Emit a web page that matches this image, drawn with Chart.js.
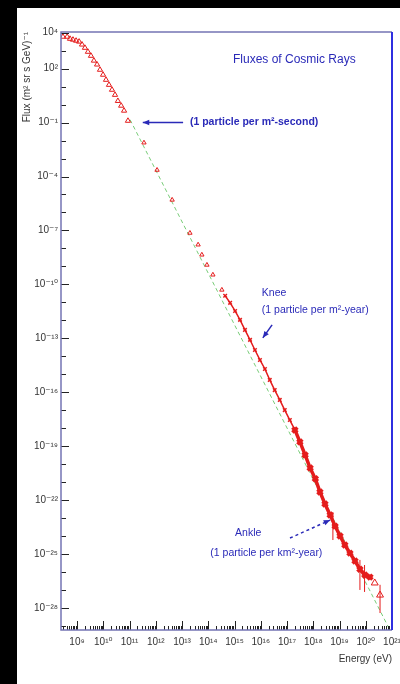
<!DOCTYPE html>
<html>
<head>
<meta charset="utf-8">
<script src="https://cdn.jsdelivr.net/npm/chart.js@4.4.1/dist/chart.umd.min.js"></script>
<style>
html,body{margin:0;padding:0;background:#000;width:400px;height:684px;overflow:hidden;}
#box{position:absolute;left:17px;top:8px;width:383px;height:676px;background:#fff;}
</style>
</head>
<body>
<div id="box"><canvas id="myChart" width="383" height="676"></canvas></div>
<script>
// low energy points (triangles), E in eV, flux in (m2 sr s GeV)^-1
var lowE = [2.9e8, 4.2e8, 5.4e8, 7.0e8, 9.2e8, 1.2e9, 1.55e9, 2.0e9, 2.6e9, 3.4e9, 4.4e9, 5.8e9, 7.5e9, 9.8e9, 1.27e10, 1.65e10, 2.15e10, 2.8e10, 3.6e10, 4.8e10, 6.2e10, 8.7e10];
var lowF = [6.0e3, 6.0e3, 4.6e3, 4.1e3, 3.6e3, 3.2e3, 2.2e3, 1.45e3, 870, 520, 280, 170, 87, 46, 24, 12.6, 6.7, 3.5, 1.6, 0.87, 0.46, 0.126];
// direct measurements, sparse
var midE = [3.55e11, 1.12e12, 4.2e12, 2.0e13, 4.1e13, 5.7e13, 8.9e13, 1.5e14, 3.3e14];
var midF = [7.6e-3, 2.3e-4, 5.0e-6, 7.2e-8, 1.6e-8, 4.4e-9, 1.2e-9, 3.4e-10, 4.9e-11];
// air shower data around the knee
var kneeE = [4.4e14, 6.8e14, 1.05e15, 1.62e15, 2.5e15, 3.9e15, 6.0e15, 9.3e15, 1.44e16, 2.2e16, 3.4e16, 5.3e16, 8.2e16, 1.28e17, 2.0e17];
var kneeF = [2.3e-11, 9.3e-12, 3.3e-12, 1.05e-12, 2.9e-13, 8.1e-14, 2.2e-14, 6.2e-15, 1.95e-15, 4.8e-16, 1.3e-16, 3.7e-17, 1.0e-17, 2.8e-18, 7.9e-19];
// data around the ankle
var ankleE = [2.0e17, 3.1e17, 4.9e17, 7.6e17, 1.2e18, 1.8e18, 2.8e18, 4.4e18, 6.8e18, 1.05e19, 1.6e19, 2.5e19, 3.9e19, 6.0e19, 9.3e19, 1.45e20];
var ankleF = [7.9e-19, 1.7e-19, 3.2e-20, 6.0e-21, 1.5e-21, 2.8e-22, 6.0e-23, 1.45e-23, 3.5e-24, 9.8e-25, 3.1e-25, 1.1e-25, 4.0e-26, 1.4e-26, 6.6e-27, 5.1e-27];
// highest energy points
var topE = [2.2e20, 3.5e20];
var topF = [2.4e-27, 5.1e-28];
// vertical error bars
var errE = [5.6e18, 6.0e19, 9.0e19, 3.5e20];
var errLo = [5.9e-25, 9.8e-28, 7.6e-28, 5.1e-29];
var errHi = [2.1e-23, 4.6e-26, 2.4e-26, 1.9e-27];
// power law guide line
var fitE = [1.05e11, 8.3e20];
var fitF = [0.145, 5.8e-30];

var xTickExp = [9,10,11,12,13,14,15,16,17,18,19,20,21];
var yTickExp = [4,2,-1,-4,-7,-10,-13,-16,-19,-22,-25,-28];

var sup = {'-':'\u207B','0':'\u2070','1':'\u00B9','2':'\u00B2','3':'\u00B3','4':'\u2074','5':'\u2075','6':'\u2076','7':'\u2077','8':'\u2078','9':'\u2079'};
function toSup(n){
  return String(n).split('').map(function(c){ return sup[c]; }).join('');
}
function pts(xs, ys){
  return xs.map(function(v, i){ return {x: v, y: ys[i]}; });
}
function errPts(){
  var out = [];
  for(var i = 0; i < errE.length; i++){
    out.push({x: errE[i], y: errLo[i]});
    out.push({x: errE[i], y: errHi[i]});
    out.push({x: errE[i], y: null});
  }
  return out;
}
function decadeLabel(list){
  return function(value){
    var e = Math.round(Math.log10(value));
    if(Math.abs(value / Math.pow(10, e) - 1) < 1e-6 && list.indexOf(e) >= 0)
      return '10' + toSup(e);
    return '';
  };
}

// annotation texts anchored in data coordinates
var notes = [
  {text: 'Fluxes of Cosmic Rays', x: 1.9e17, y: 320, font: '12px "Liberation Sans"', align: 'center'},
  {text: '(1 particle per m\u00B2-second)', x: 2.0e13, y: 0.1, font: 'bold 10.5px "Liberation Sans"', align: 'left'},
  {text: 'Knee', x: 1.1e16, y: 3.3e-11, font: '10.5px "Liberation Sans"', align: 'left'},
  {text: '(1 particle per m\u00B2-year)', x: 1.1e16, y: 3.8e-12, font: '10.5px "Liberation Sans"', align: 'left'},
  {text: 'Ankle', x: 1.05e15, y: 1.45e-24, font: '10.5px "Liberation Sans"', align: 'left'},
  {text: '(1 particle per km\u00B2-year)', x: 1.2e14, y: 1.1e-25, font: '10.5px "Liberation Sans"', align: 'left'}
];
var arrows = [
  {from: [1.1e13, 0.1], to: [3.2e11, 0.1], dash: []},
  {from: [2.7e16, 5.5e-13], to: [1.2e16, 1.05e-13], dash: []},
  {from: [1.3e17, 7.6e-25], to: [4.4e18, 7.6e-24], dash: [3, 3]}
];

var decor = {
  id: 'decor',
  afterDraw: function(chart){
    var ctx = chart.ctx, a = chart.chartArea;
    var xs = chart.scales.x, ys = chart.scales.y;
    ctx.save();
    // inward ticks
    ctx.strokeStyle = '#222';
    ctx.lineWidth = 1;
    xs.ticks.forEach(function(t){
      var px = Math.round(xs.getPixelForValue(t.value)) + 0.5;
      var len = t.big ? 9 : 4;
      ctx.beginPath(); ctx.moveTo(px, a.bottom); ctx.lineTo(px, a.bottom - len); ctx.stroke();
    });
    ys.ticks.forEach(function(t){
      var py = Math.round(ys.getPixelForValue(t.value)) + 0.5;
      var e = Math.round(Math.log10(t.value));
      var len = yTickExp.indexOf(e) >= 0 ? 8 : 5;
      ctx.beginPath(); ctx.moveTo(a.left, py); ctx.lineTo(a.left + len, py); ctx.stroke();
    });
    // frame
    ctx.lineWidth = 1.5;
    ctx.strokeStyle = '#7474b4';
    ctx.beginPath();
    ctx.moveTo(a.right, a.top); ctx.lineTo(a.left, a.top); ctx.lineTo(a.left, a.bottom); ctx.lineTo(a.right, a.bottom);
    ctx.stroke();
    ctx.lineWidth = 2;
    ctx.strokeStyle = '#2f2fe0';
    ctx.beginPath(); ctx.moveTo(a.right, a.top); ctx.lineTo(a.right, a.bottom); ctx.stroke();
    // notes
    ctx.fillStyle = '#2a2ab8';
    ctx.textBaseline = 'middle';
    notes.forEach(function(n){
      ctx.font = n.font;
      ctx.textAlign = n.align;
      ctx.fillText(n.text, xs.getPixelForValue(n.x), ys.getPixelForValue(n.y));
    });
    // arrows
    ctx.strokeStyle = '#2a2ab8';
    arrows.forEach(function(ar){
      var x0 = xs.getPixelForValue(ar.from[0]), y0 = ys.getPixelForValue(ar.from[1]);
      var x1 = xs.getPixelForValue(ar.to[0]), y1 = ys.getPixelForValue(ar.to[1]);
      var ang = Math.atan2(y1 - y0, x1 - x0);
      ctx.lineWidth = 1.5;
      ctx.setLineDash(ar.dash);
      ctx.beginPath(); ctx.moveTo(x0, y0); ctx.lineTo(x1, y1); ctx.stroke();
      ctx.setLineDash([]);
      ctx.beginPath();
      ctx.moveTo(x1, y1);
      ctx.lineTo(x1 - 7 * Math.cos(ang - 0.4), y1 - 7 * Math.sin(ang - 0.4));
      ctx.lineTo(x1 - 7 * Math.cos(ang + 0.4), y1 - 7 * Math.sin(ang + 0.4));
      ctx.closePath();
      ctx.fillStyle = '#2a2ab8';
      ctx.fill();
    });
    ctx.restore();
  }
};

var red = '#e41c1c';
var labelFont = {family: '"Liberation Sans", "DejaVu Sans", sans-serif', size: 10};

var ctx = document.getElementById('myChart').getContext('2d');
var chart = new Chart(ctx, {
  type: 'scatter',
  data: {
    datasets: [{
      label: 'fit',
      data: pts(fitE, fitF),
      showLine: true,
      borderColor: '#78cc78',
      borderWidth: 1,
      borderDash: [4, 3],
      pointRadius: 0,
      order: 10
    }, {
      label: 'low',
      data: pts(lowE, lowF),
      pointStyle: 'triangle',
      pointRadius: 3,
      borderColor: red,
      backgroundColor: 'rgba(0,0,0,0)',
      borderWidth: 1
    }, {
      label: 'mid',
      data: pts(midE, midF),
      pointStyle: 'triangle',
      pointRadius: 2.5,
      borderColor: red,
      backgroundColor: 'rgba(0,0,0,0)',
      borderWidth: 1
    }, {
      label: 'knee',
      data: pts(kneeE, kneeF),
      showLine: true,
      pointStyle: 'crossRot',
      pointRadius: 2.5,
      borderColor: red,
      borderWidth: 1.5
    }, {
      label: 'ankle',
      data: pts(ankleE, ankleF),
      showLine: true,
      pointStyle: 'crossRot',
      pointRadius: 3.5,
      borderColor: red,
      borderWidth: 3.5
    }, {
      label: 'top',
      data: pts(topE, topF),
      pointStyle: 'triangle',
      pointRadius: 4,
      borderColor: red,
      backgroundColor: 'rgba(0,0,0,0)',
      borderWidth: 1
    }, {
      label: 'err',
      data: errPts(),
      showLine: true,
      spanGaps: false,
      pointRadius: 0,
      borderColor: red,
      borderWidth: 1
    }]
  },
  options: {
    responsive: false,
    animation: false,
    layout: {padding: {top: 24, right: 8, bottom: 19, left: 0}},
    plugins: {legend: {display: false}, tooltip: {enabled: false}},
    scales: {
      x: {
        type: 'logarithmic',
        min: 2.45e8,
        max: 1e21,
        grid: {display: false, drawTicks: false},
        border: {display: false},
        afterBuildTicks: function(scale){
          var t = [];
          for(var e = 8; e <= 20; e++){
            for(var m = 1; m <= 9; m++){
              var v = m * Math.pow(10, e);
              if(v >= scale.min && v <= scale.max) t.push({value: v, big: m === 1});
            }
          }
          t.push({value: 1e21, big: true});
          scale.ticks = t;
        },
        afterFit: function(scale){
          scale.height = 35;
          scale.paddingRight = 0;
          scale.paddingLeft = 0;
        },
        ticks: {
          autoSkip: false,
          maxRotation: 0,
          padding: 6,
          color: '#333',
          font: labelFont,
          callback: decadeLabel(xTickExp)
        },
        title: {
          display: true,
          text: 'Energy (eV)',
          align: 'end',
          color: '#333',
          font: labelFont,
          padding: 0
        }
      },
      y: {
        type: 'logarithmic',
        min: 5.8e-30,
        max: 1.1e4,
        grid: {display: false, drawTicks: false},
        border: {display: false},
        afterBuildTicks: function(scale){
          var t = [];
          for(var e = -29; e <= 4; e++) t.push({value: Math.pow(10, e)});
          scale.ticks = t;
        },
        afterFit: function(scale){
          scale.width = 44;
          scale.paddingTop = 0;
          scale.paddingBottom = 0;
        },
        ticks: {
          autoSkip: false,
          padding: 3,
          color: '#333',
          font: labelFont,
          callback: decadeLabel(yTickExp)
        },
        title: {
          display: true,
          text: 'Flux (m\u00B2 sr s GeV)\u207B\u00B9',
          align: 'end',
          color: '#333',
          font: labelFont,
          padding: {top: 4, bottom: 0}
        }
      }
    }
  },
  plugins: [decor]
});
</script>
</body>
</html>
